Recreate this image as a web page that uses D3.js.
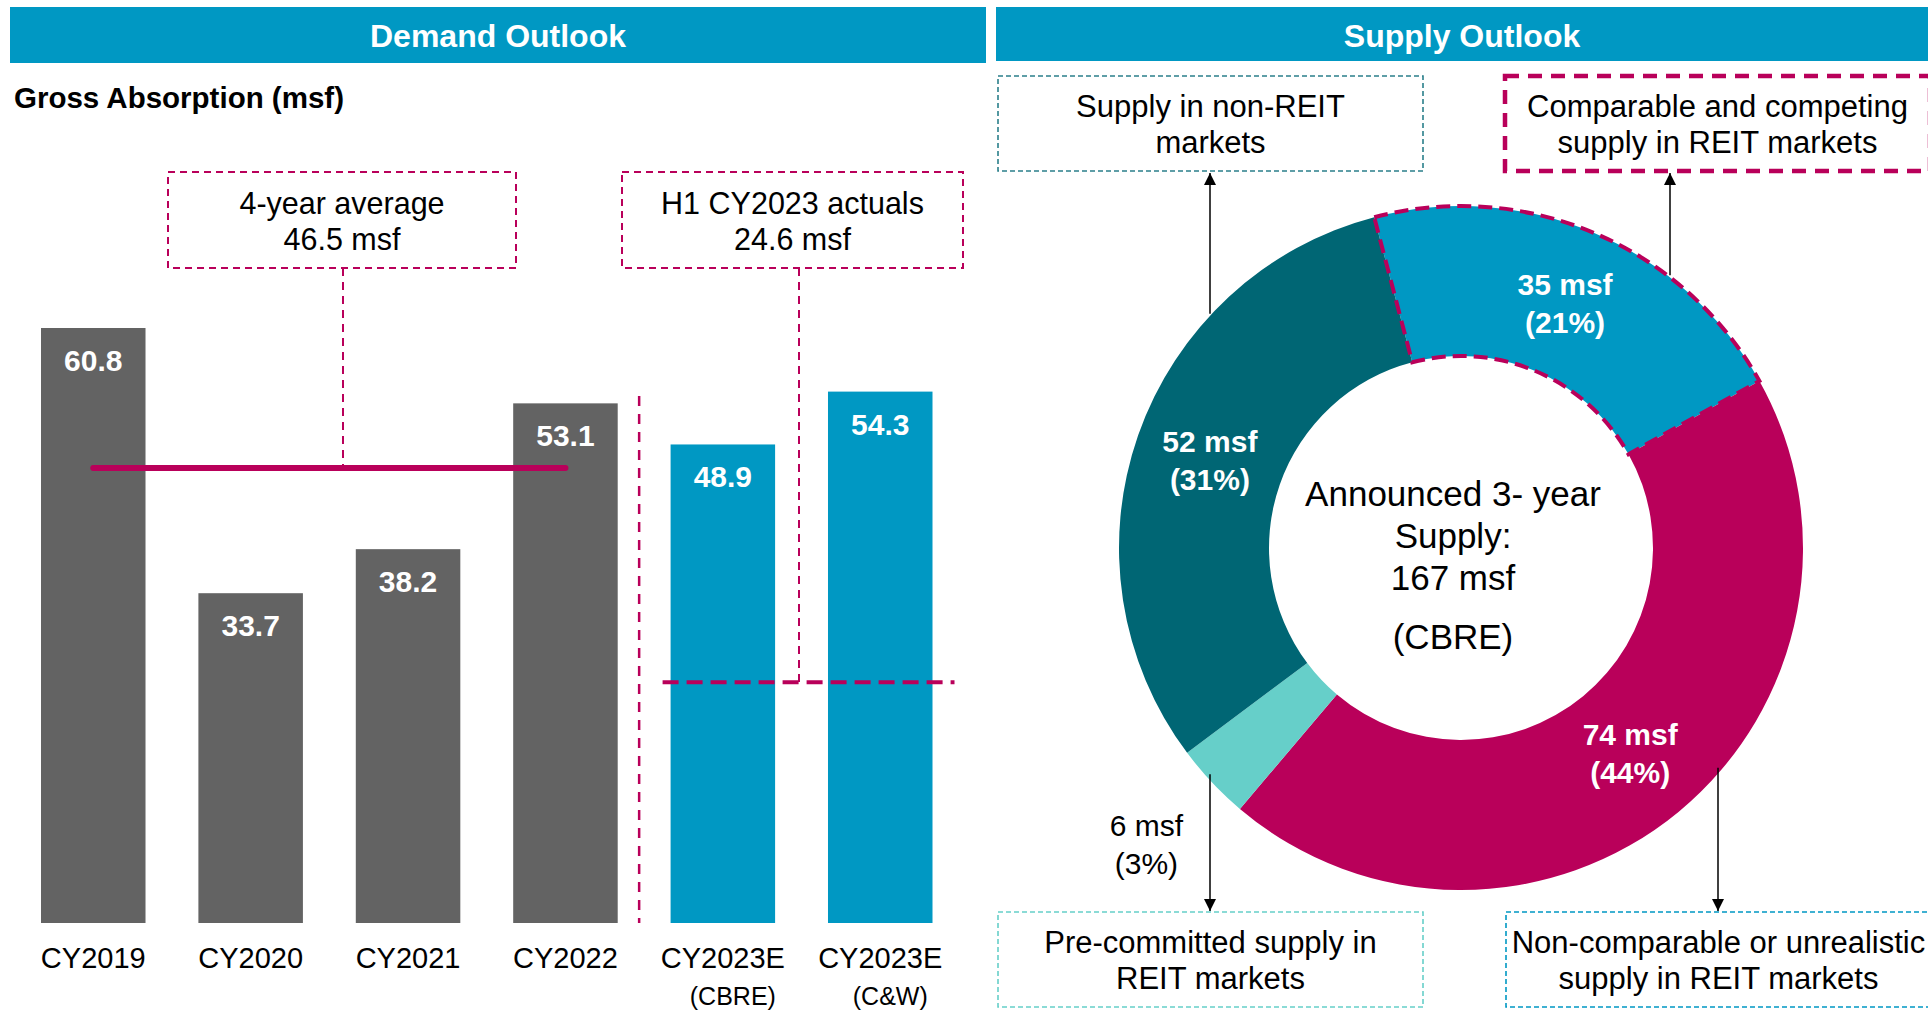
<!DOCTYPE html>
<html>
<head>
<meta charset="utf-8">
<script src="https://cdn.jsdelivr.net/npm/d3@7"></script>
<style>
  body { margin: 0; background: #fff; }
  svg { display: block; font-family: "Liberation Sans", Arial, sans-serif; }
</style>
</head>
<body>
<svg id="chart"></svg>
<script>
// Demand side: gross absorption (msf)
const years = ["CY2019", "CY2020", "CY2021", "CY2022", "CY2023E", "CY2023E"];
const yearNotes = ["", "", "", "", "(CBRE)", "(C&W)"];
const absorption = [60.8, 33.7, 38.2, 53.1, 48.9, 54.3];
const isEstimate = [false, false, false, false, true, true];
const fourYearAvg = 46.5;
const h1Actuals = 24.6;

// Supply side: announced 3-year supply (msf), CBRE
const supplyKeys = ["competing", "nonComparable", "preCommitted", "nonReit"];
const supplyValues = [35, 74, 6, 52];
const supplyPct = [21, 44, 3, 31];
const supplyBoxLines = [
  ["Comparable and competing", "supply in REIT markets"],
  ["Non-comparable or unrealistic", "supply in REIT markets"],
  ["Pre-committed supply in", "REIT markets"],
  ["Supply in non-REIT", "markets"]
];
const centerLines = ["Announced 3- year", "Supply:", "167 msf", "(CBRE)"];

const W = 1928, H = 1016;
const magenta = "#b9005a", blue = "#0098c3", grey = "#636363";
const darkTeal = "#006674", lightTeal = "#66cfc9";

const svg = d3.select("#chart").attr("width", W).attr("height", H);

// Section headers
const headers = [
  { text: "Demand Outlook", x0: 10, x1: 986, h: 56 },
  { text: "Supply Outlook", x0: 996, x1: 1928, h: 54 }
];
headers.forEach(d => {
  svg.append("rect").attr("x", d.x0).attr("y", 7).attr("width", d.x1 - d.x0).attr("height", d.h).attr("fill", blue);
  svg.append("text").attr("x", (d.x0 + d.x1) / 2).attr("y", 47)
    .attr("text-anchor", "middle").attr("fill", "#fff")
    .attr("font-size", "32px").attr("font-weight", "bold").text(d.text);
});

svg.append("text").attr("x", 14).attr("y", 108)
  .attr("font-size", "29.5px").attr("font-weight", "bold").attr("fill", "#000")
  .text("Gross Absorption (msf)");

// ---------- Bar chart ----------
const keys = years.map((y, i) => y + yearNotes[i]);
const x = d3.scaleBand().domain(keys).range([41, 932.5]).paddingInner(0.336).paddingOuter(0);
const y = d3.scaleLinear().domain([0, 60.8]).range([923, 328]);

const bars = svg.append("g");
bars.selectAll("rect").data(absorption).enter().append("rect")
  .attr("x", (d, i) => x(keys[i]))
  .attr("y", d => y(d))
  .attr("width", x.bandwidth())
  .attr("height", d => y(0) - y(d))
  .attr("fill", (d, i) => isEstimate[i] ? blue : grey);

bars.selectAll("text.val").data(absorption).enter().append("text")
  .attr("class", "val")
  .attr("x", (d, i) => x(keys[i]) + x.bandwidth() / 2)
  .attr("y", d => y(d) + 43)
  .attr("text-anchor", "middle").attr("fill", "#fff")
  .attr("font-size", "30px").attr("font-weight", "bold")
  .text(d => d.toFixed(1));

// category axis (no line, no ticks)
const xAxis = svg.append("g").attr("transform", `translate(0,${y(0)})`)
  .call(d3.axisBottom(x).tickSize(0).tickFormat(""));
xAxis.select(".domain").remove();
const lab = svg.append("g");
keys.forEach((k, i) => {
  const cx = x(k) + x.bandwidth() / 2;
  lab.append("text").attr("x", cx).attr("y", y(0) + 45)
    .attr("text-anchor", "middle").attr("font-size", "29px").attr("fill", "#000").text(years[i]);
  if (yearNotes[i]) {
    lab.append("text").attr("x", cx + 10).attr("y", y(0) + 82)
      .attr("text-anchor", "middle").attr("font-size", "25px").attr("fill", "#000").text(yearNotes[i]);
  }
});

// separator between actuals and estimates
const sepX = (x(keys[3]) + x.bandwidth() + x(keys[4])) / 2 - 5;
svg.append("line").attr("x1", sepX).attr("x2", sepX).attr("y1", 396).attr("y2", y(0))
  .attr("stroke", magenta).attr("stroke-width", 2.5).attr("stroke-dasharray", "10,8");

// 4-year average line
const avgX0 = x(keys[0]) + x.bandwidth() / 2, avgX1 = x(keys[3]) + x.bandwidth() / 2;
svg.append("line").attr("x1", avgX0).attr("x2", avgX1).attr("y1", y(fourYearAvg)).attr("y2", y(fourYearAvg))
  .attr("stroke", magenta).attr("stroke-width", 6).attr("stroke-linecap", "round");

// H1 CY2023 actuals line
svg.append("line").attr("x1", x(keys[4]) - 8).attr("x2", x(keys[5]) + x.bandwidth() + 22)
  .attr("y1", y(h1Actuals)).attr("y2", y(h1Actuals))
  .attr("stroke", magenta).attr("stroke-width", 4).attr("stroke-dasharray", "16,8");

// callout boxes
const callouts = [
  { lines: ["4-year average", fourYearAvg + " msf"], x0: 168, x1: 516, px: 343, py: y(fourYearAvg) },
  { lines: ["H1 CY2023 actuals", h1Actuals + " msf"], x0: 622, x1: 963, px: 799, py: y(h1Actuals) }
];
callouts.forEach(c => {
  svg.append("rect").attr("x", c.x0).attr("y", 172).attr("width", c.x1 - c.x0).attr("height", 96)
    .attr("fill", "none").attr("stroke", magenta).attr("stroke-width", 2).attr("stroke-dasharray", "7,5");
  svg.append("line").attr("x1", c.px).attr("x2", c.px).attr("y1", 268).attr("y2", c.py)
    .attr("stroke", magenta).attr("stroke-width", 2).attr("stroke-dasharray", "8,6");
  c.lines.forEach((t, j) => {
    svg.append("text").attr("x", (c.x0 + c.x1) / 2).attr("y", 214 + j * 36)
      .attr("text-anchor", "middle").attr("font-size", "30.5px").attr("fill", "#000").text(t);
  });
});

// ---------- Donut ----------
const cx = 1461, cy = 548, R = 342, r = 192;
const segColors = [blue, magenta, lightTeal, darkTeal];
const start = -14.7 * Math.PI / 180;
const pie = d3.pie().sort(null).startAngle(start).endAngle(start + 2 * Math.PI);
const arcs = pie(supplyValues);
const arc = d3.arc().innerRadius(r).outerRadius(R);
const donut = svg.append("g").attr("transform", `translate(${cx},${cy})`);

donut.selectAll("path.seg").data(arcs).enter().append("path")
  .attr("class", "seg").attr("d", arc)
  .attr("fill", (d, i) => segColors[i]);

// dashed outline on the competing-supply slice
donut.append("path").attr("d", arc(arcs[0]))
  .attr("fill", "none").attr("stroke", magenta).attr("stroke-width", 4).attr("stroke-dasharray", "14,7");

const labelArc = d3.arc().innerRadius(266).outerRadius(266);
const outerArc = d3.arc().innerRadius(432).outerRadius(432);
arcs.forEach((d, i) => {
  const small = supplyValues[i] < 10;
  const [lx, ly] = small ? outerArc.centroid(d) : labelArc.centroid(d);
  const g = donut.append("text").attr("text-anchor", "middle")
    .attr("font-size", "30px").attr("font-weight", small ? "normal" : "bold")
    .attr("fill", small ? "#000" : "#fff");
  g.append("tspan").attr("x", lx).attr("y", ly - 8).text(supplyValues[i] + " msf");
  g.append("tspan").attr("x", lx).attr("y", ly + 30).text("(" + supplyPct[i] + "%)");
});

centerLines.forEach((t, j) => {
  svg.append("text").attr("x", cx - 8).attr("y", [506, 548, 590, 649][j])
    .attr("text-anchor", "middle").attr("font-size", "35px").attr("fill", "#000").text(t);
});

// ---------- Supply boxes + arrows ----------
svg.append("defs").append("marker").attr("id", "arrow")
  .attr("viewBox", "0 0 10 10").attr("refX", 10).attr("refY", 5)
  .attr("markerWidth", 12).attr("markerHeight", 14).attr("markerUnits", "userSpaceOnUse")
  .attr("orient", "auto")
  .append("path").attr("d", "M0,0L10,5L0,10Z").attr("fill", "#000");

const boxes = [
  { x0: 1505, top: true,  stroke: magenta,   sw: 4.5, dash: "14,9", ax: 1670 },
  { x0: 1506, top: false, stroke: blue,      sw: 1.6, dash: "5,3",  ax: 1718 },
  { x0: 998,  top: false, stroke: lightTeal, sw: 1.6, dash: "5,3",  ax: 1210 },
  { x0: 998,  top: true,  stroke: "#2a7f8a", sw: 1.6, dash: "5,3",  ax: 1210 }
];
boxes.forEach((b, i) => {
  const y0 = b.top ? 76 : 912, bw = 425, bh = 95;
  svg.append("rect").attr("x", b.x0).attr("y", y0).attr("width", bw).attr("height", bh)
    .attr("fill", "none").attr("stroke", b.stroke).attr("stroke-width", b.sw).attr("stroke-dasharray", b.dash);
  supplyBoxLines[i].forEach((t, j) => {
    svg.append("text").attr("x", b.x0 + bw / 2).attr("y", y0 + 41 + j * 36)
      .attr("text-anchor", "middle").attr("font-size", "31px").attr("fill", "#000").text(t);
  });
  // arrow from the donut edge to the box
  const dx = b.ax - cx;
  const edge = Math.sqrt(R * R - dx * dx);
  const ys = b.top ? cy - edge - 2 : cy + edge - 6;
  const ye = b.top ? y0 + bh + 2 : y0 - 1;
  svg.append("line").attr("x1", b.ax).attr("x2", b.ax).attr("y1", ys).attr("y2", ye)
    .attr("stroke", "#000").attr("stroke-width", 1.5).attr("marker-end", "url(#arrow)");
});
</script>
</body>
</html>
